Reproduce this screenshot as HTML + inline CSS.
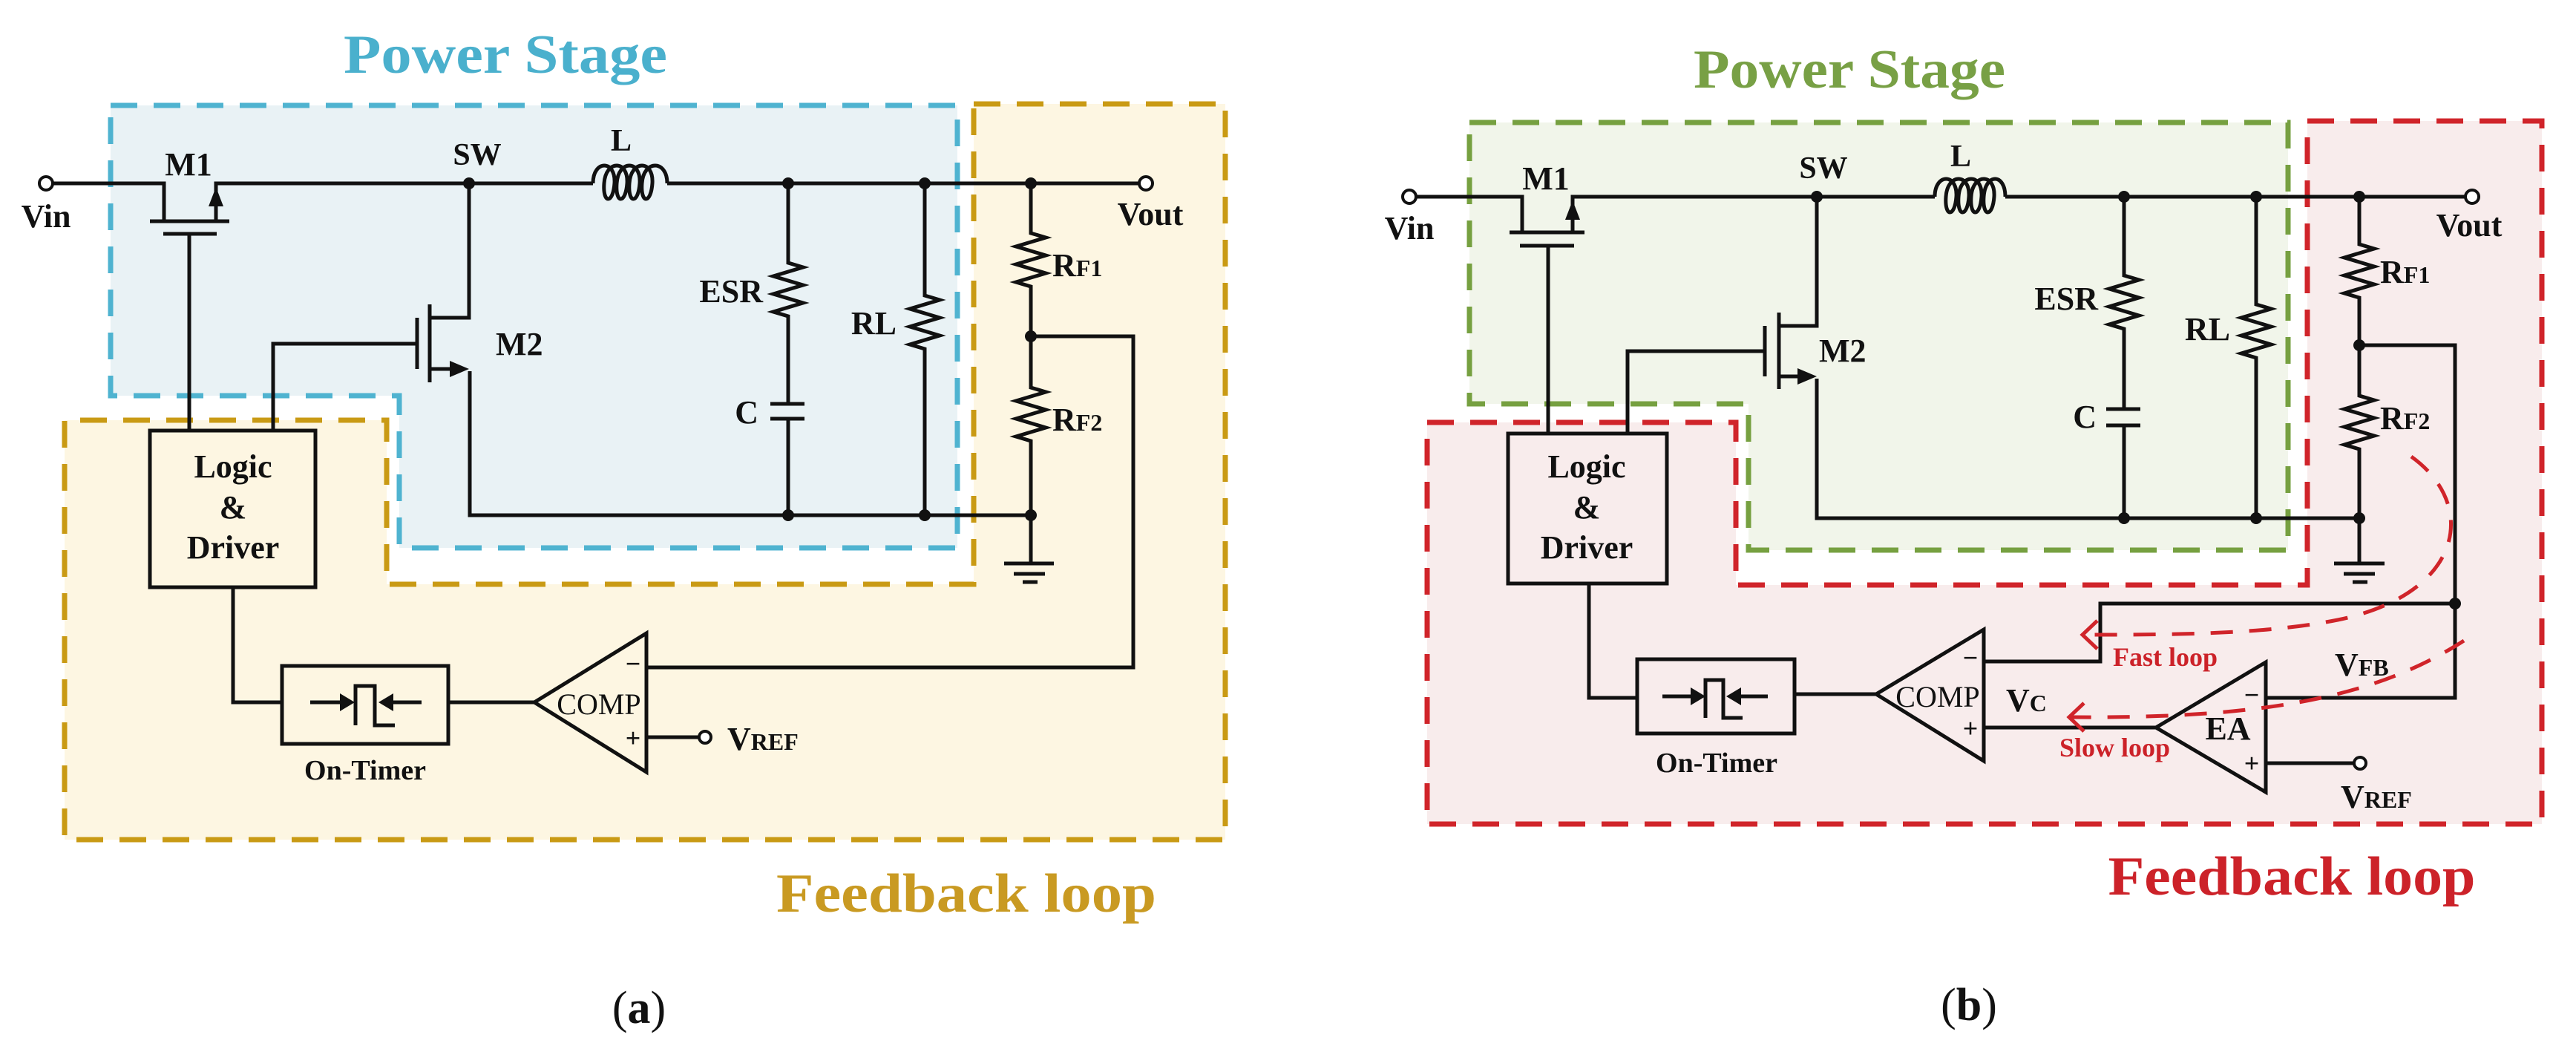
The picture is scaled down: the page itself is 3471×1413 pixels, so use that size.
<!DOCTYPE html>
<html><head><meta charset="utf-8"><style>
html,body{margin:0;padding:0;background:#fff}
svg{display:block}
text{font-family:"Liberation Serif",serif;font-weight:bold;fill:#111}
</style></head><body>
<svg width="3471" height="1413" viewBox="0 0 3471 1413" xmlns="http://www.w3.org/2000/svg">
<defs>
<marker id="ah" markerWidth="10" markerHeight="10" refX="9" refY="5" orient="auto" markerUnits="userSpaceOnUse"></marker>
</defs>

<!-- ============ PANEL A ============ -->
<!-- yellow feedback region -->
<path d="M1312,140 H1651 V1131 H87 V566 H521 V787 H1312 Z" fill="#fdf6e2" stroke="#c99a14" stroke-width="7" stroke-dasharray="36,22"/>
<!-- blue power stage -->
<path d="M149,142 H1290 V738 H538 V533 H149 Z" fill="#e9f2f5" stroke="#4fb3d0" stroke-width="7" stroke-dasharray="36,22"/>

<text x="681" y="98" font-size="74" text-anchor="middle" style="fill:#4ab0cd" textLength="436" lengthAdjust="spacingAndGlyphs">Power Stage</text>
<text x="1302" y="1228" font-size="74" text-anchor="middle" style="fill:#c99a22" textLength="512" lengthAdjust="spacingAndGlyphs">Feedback loop</text>

<g stroke="#111" stroke-width="5" fill="none">
<!-- top rail -->
<path d="M70,247 H221 V298"/>
<path d="M202,298 H309"/>
<path d="M220,315 H292"/>
<path d="M291,298 V247 H799"/>
<path d="M899,247 H1536"/>
<!-- inductor -->
<path d="M799,247 C799,215 830,215 828,247 C826,275 812,275 814,247 C816,215 847,215 845,247 C843,275 829,275 831,247 C833,215 864,215 862,247 C860,275 846,275 848,247 C850,215 881,215 879,247 C877,275 863,275 865,247 C867,215 899,215 899,247"/>
<!-- M1 gate -->
<path d="M255,315 V580"/>
<!-- M2 -->
<path d="M632,247 V428 H579"/>
<path d="M579,410 V515"/>
<path d="M562,428 V497"/>
<path d="M562,463 H368 V580"/>
<path d="M579,497 H612"/>
<path d="M633,500 V694 H1389"/>
<!-- ESR / C -->
<path d="M1062,247 V354 l20,6 l-40,12 l40,12 l-40,12 l40,12 l-40,12 l20,6 V544"/>
<path d="M1038,544 H1084 M1038,564 H1084"/>
<path d="M1062,564 V694"/>
<!-- RL -->
<path d="M1246,247 V398 l20,6 l-40,12 l40,12 l-40,12 l40,12 l-40,12 l20,6 V694"/>
<!-- RF1 RF2 -->
<path d="M1389,247 V314 l20,6 l-40,12 l40,12 l-40,12 l40,12 l-40,12 l20,6 V522 l20,6 l-40,12 l40,12 l-40,12 l40,12 l-40,12 l20,6 V759"/>
<path d="M1353,759 H1420 M1366,773 H1408 M1378,784 H1398"/>
<!-- feedback wire -->
<path d="M1389,453 H1527 V899 H871"/>
<!-- comparator -->
<path d="M871,853 V1040 L720,946 Z"/>
<path d="M871,993 H942"/>
<path d="M720,946 H604"/>
<!-- on timer -->
<rect x="380" y="897" width="224" height="105"/>
<path d="M380,946 H314 V791"/>
<rect x="202" y="580" width="223" height="211"/>
<path d="M418,946 H462"/>
<path d="M479,977 V924 H505 V977 H532"/>
<path d="M568,946 H524"/>
</g>
<!-- arrows -->
<path d="M291,252 L281,278 H301 Z" fill="#111"/>
<path d="M632,497 L606,486 V508 Z" fill="#111"/>
<path d="M478,946 L458,934 V958 Z" fill="#111"/>
<path d="M510,946 L530,934 V958 Z" fill="#111"/>
<!-- dots & terminals -->
<g fill="#111">
<circle cx="632" cy="247" r="8"/><circle cx="1062" cy="247" r="8"/><circle cx="1246" cy="247" r="8"/><circle cx="1389" cy="247" r="8"/>
<circle cx="1389" cy="453" r="8"/><circle cx="1062" cy="694" r="8"/><circle cx="1246" cy="694" r="8"/><circle cx="1389" cy="694" r="8"/>
</g>
<g fill="#fff" stroke="#111" stroke-width="4">
<circle cx="62" cy="247" r="9"/><circle cx="1544" cy="247" r="9"/><circle cx="950" cy="993" r="8"/>
</g>
<!-- labels a -->
<text x="62" y="306" font-size="44" text-anchor="middle">Vin</text>
<text x="254" y="236" font-size="44" text-anchor="middle">M1</text>
<text x="643" y="222" font-size="42" text-anchor="middle">SW</text>
<text x="837" y="203" font-size="42" text-anchor="middle">L</text>
<text x="1550" y="303" font-size="44" text-anchor="middle">Vout</text>
<text x="668" y="478" font-size="44">M2</text>
<text x="1028" y="407" font-size="44" text-anchor="end">ESR</text>
<text x="1022" y="570" font-size="44" text-anchor="end">C</text>
<text x="1208" y="450" font-size="44" text-anchor="end">RL</text>
<text x="1418" y="372" font-size="44">R<tspan font-size="32">F1</tspan></text>
<text x="1418" y="580" font-size="44">R<tspan font-size="32">F2</tspan></text>
<text x="807" y="962" font-size="40" text-anchor="middle" font-weight="normal" style="font-weight:normal">COMP</text>
<text x="853" y="906" font-size="36" text-anchor="middle">−</text>
<text x="853" y="1006" font-size="36" text-anchor="middle">+</text>
<text x="980" y="1010" font-size="44">V<tspan font-size="32">REF</tspan></text>
<text x="314" y="643" font-size="44" text-anchor="middle">Logic</text>
<text x="314" y="698" font-size="44" text-anchor="middle">&amp;</text>
<text x="314" y="752" font-size="44" text-anchor="middle">Driver</text>
<text x="492" y="1050" font-size="38" text-anchor="middle">On-Timer</text>
<text x="861" y="1378" font-size="62" text-anchor="middle" style="font-weight:normal">(<tspan font-weight="bold">a</tspan>)</text>

<!-- ============ PANEL B ============ -->
<path d="M3109,163 H3425 V1110 H1923 V569 H2339 V788 H3109 Z" fill="#f8ecec" stroke="#d0242a" stroke-width="7" stroke-dasharray="36,22"/>
<path d="M1980,165 H3083 V741 H2356 V544 H1980 Z" fill="#f1f5ea" stroke="#76a040" stroke-width="7" stroke-dasharray="36,22"/>

<text x="2492" y="118" font-size="74" text-anchor="middle" style="fill:#78a045" textLength="420" lengthAdjust="spacingAndGlyphs">Power Stage</text>
<text x="3088" y="1205" font-size="74" text-anchor="middle" style="fill:#cc2229" textLength="495" lengthAdjust="spacingAndGlyphs">Feedback loop</text>

<g stroke="#111" stroke-width="5" fill="none">
<path d="M1908,265 H2051 V313"/>
<path d="M2034,313 H2135"/>
<path d="M2048,331 H2121"/>
<path d="M2119,313 V265 H2607"/>
<path d="M2702,265 H3322"/>
<path d="M2607,265 C2607,233 2638,233 2636,265 C2634,293 2620,293 2622,265 C2624,233 2655,233 2653,265 C2651,293 2637,293 2639,265 C2641,233 2672,233 2670,265 C2668,293 2654,293 2656,265 C2658,233 2689,233 2687,265 C2685,293 2671,293 2673,265 C2675,233 2702,233 2702,265"/>
<path d="M2086,331 V584"/>
<path d="M2448,265 V439 H2397"/>
<path d="M2397,421 V524"/>
<path d="M2378,439 V507"/>
<path d="M2378,473 H2193 V584"/>
<path d="M2397,507 H2428"/>
<path d="M2448,510 V698 H3179"/>
<path d="M2862,265 V371 l20,6 l-40,12 l40,12 l-40,12 l40,12 l-40,12 l20,6 V551"/>
<path d="M2838,551 H2884 M2838,573 H2884"/>
<path d="M2862,573 V698"/>
<path d="M3040,265 V410 l20,6 l-40,12 l40,12 l-40,12 l40,12 l-40,12 l20,6 V698"/>
<path d="M3179,265 V329 l20,6 l-40,12 l40,12 l-40,12 l40,12 l-40,12 l20,6 V533 l20,6 l-40,12 l40,12 l-40,12 l40,12 l-40,12 l20,6 V759"/>
<path d="M3145,759 H3213 M3158,773 H3200 M3170,784 H3190"/>
<!-- feedback wires -->
<path d="M3179,465 H3308 V940 H3053"/>
<path d="M3308,813 H2830 V891 H2673"/>
<!-- COMP -->
<path d="M2673,848 V1025 L2528,935 Z"/>
<path d="M2528,935 H2418"/>
<path d="M2673,980 H2905"/>
<!-- EA -->
<path d="M3053,892 V1067 L2905,980 Z"/>
<path d="M3053,1028 H3174"/>
<!-- On timer / logic -->
<rect x="2206" y="888" width="212" height="100"/>
<path d="M2206,940 H2141 V786"/>
<rect x="2032" y="584" width="214" height="202"/>
<path d="M2240,938 H2282"/>
<path d="M2298,967 V916 H2322 V967 H2348"/>
<path d="M2382,938 H2340"/>
</g>
<path d="M2119,270 L2109,296 H2129 Z" fill="#111"/>
<path d="M2448,507 L2422,496 V518 Z" fill="#111"/>
<path d="M2298,938 L2278,926 V950 Z" fill="#111"/>
<path d="M2326,938 L2346,926 V950 Z" fill="#111"/>
<g fill="#111">
<circle cx="2448" cy="265" r="8"/><circle cx="2862" cy="265" r="8"/><circle cx="3040" cy="265" r="8"/><circle cx="3179" cy="265" r="8"/>
<circle cx="3179" cy="465" r="8"/><circle cx="2862" cy="698" r="8"/><circle cx="3040" cy="698" r="8"/><circle cx="3179" cy="698" r="8"/>
<circle cx="3308" cy="813" r="8"/>
</g>
<g fill="#fff" stroke="#111" stroke-width="4">
<circle cx="1899" cy="265" r="9"/><circle cx="3331" cy="265" r="9"/><circle cx="3180" cy="1028" r="8"/>
</g>
<!-- loops -->
<g stroke="#d0242a" stroke-width="5" fill="none">
<path d="M3249,615 C3340,680 3320,800 3150,835 C3050,855 2920,855 2806,855" stroke-dasharray="30,22"/>
<path d="M2826,836 L2806,855 L2826,874"/>
<path d="M3320,863 C3200,940 3050,968 2788,966" stroke-dasharray="30,22"/>
<path d="M2808,947 L2788,966 L2808,985"/>
</g>
<text x="2847" y="897" font-size="36" style="fill:#cc2229">Fast loop</text>
<text x="2775" y="1019" font-size="36" style="fill:#cc2229">Slow loop</text>
<!-- labels b -->
<text x="1899" y="322" font-size="44" text-anchor="middle">Vin</text>
<text x="2083" y="255" font-size="44" text-anchor="middle">M1</text>
<text x="2457" y="240" font-size="42" text-anchor="middle">SW</text>
<text x="2642" y="224" font-size="42" text-anchor="middle">L</text>
<text x="3327" y="318" font-size="44" text-anchor="middle">Vout</text>
<text x="2451" y="487" font-size="44">M2</text>
<text x="2827" y="417" font-size="44" text-anchor="end">ESR</text>
<text x="2825" y="576" font-size="44" text-anchor="end">C</text>
<text x="3005" y="458" font-size="44" text-anchor="end">RL</text>
<text x="3207" y="381" font-size="44">R<tspan font-size="32">F1</tspan></text>
<text x="3207" y="578" font-size="44">R<tspan font-size="32">F2</tspan></text>
<text x="2611" y="952" font-size="40" text-anchor="middle" style="font-weight:normal">COMP</text>
<text x="2655" y="898" font-size="36" text-anchor="middle">−</text>
<text x="2655" y="993" font-size="36" text-anchor="middle">+</text>
<text x="3002" y="996" font-size="44" text-anchor="middle">EA</text>
<text x="3034" y="948" font-size="36" text-anchor="middle">−</text>
<text x="3034" y="1040" font-size="36" text-anchor="middle">+</text>
<text x="2703" y="958" font-size="44">V<tspan font-size="32">C</tspan></text>
<text x="3146" y="910" font-size="44">V<tspan font-size="32">FB</tspan></text>
<text x="3154" y="1088" font-size="44">V<tspan font-size="32">REF</tspan></text>
<text x="2138" y="643" font-size="44" text-anchor="middle">Logic</text>
<text x="2138" y="698" font-size="44" text-anchor="middle">&amp;</text>
<text x="2138" y="752" font-size="44" text-anchor="middle">Driver</text>
<text x="2313" y="1040" font-size="38" text-anchor="middle">On-Timer</text>
<text x="2653" y="1374" font-size="62" text-anchor="middle" style="font-weight:normal">(<tspan font-weight="bold">b</tspan>)</text>
</svg>
</body></html>
